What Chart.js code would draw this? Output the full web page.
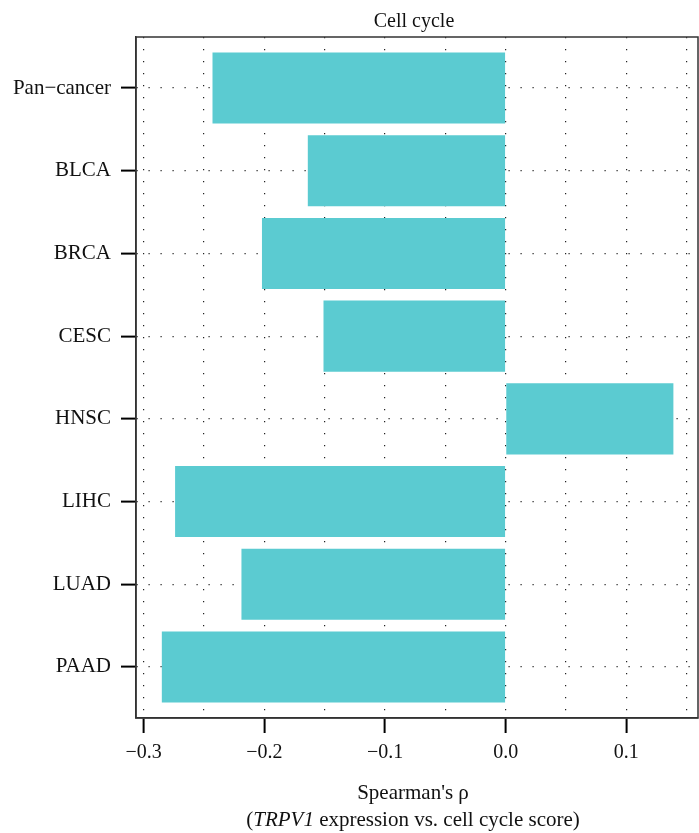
<!DOCTYPE html>
<html>
<head>
<meta charset="utf-8">
<title>Cell cycle</title>
<script src="https://cdn.jsdelivr.net/npm/chart.js@4"></script>
<style>
  html, body { margin: 0; padding: 0; background: #fff; }
  #wrap { width: 699px; height: 833px; }
</style>
</head>
<body>
<div id="wrap"><canvas id="myChart" width="699" height="833"></canvas></div>
<script>
// values
const cancerTypes = ["Pan\u2212cancer", "BLCA", "BRCA", "CESC", "HNSC", "LIHC", "LUAD", "PAAD"];
const rhoValues = [-0.243, -0.164, -0.202, -0.151, 0.139, -0.274, -0.219, -0.285];
const xTickValues = [-0.3, -0.25, -0.2, -0.15, -0.1, -0.05, 0, 0.05, 0.1, 0.15];
const xRange = [-0.3064, 0.1594];
const chartTitle = 'Cell cycle';

const serif = '"Liberation Serif", "Times New Roman", serif';
const barColor = '#5BCBD1';

function fmtTick(v) {
  if (Math.round(v * 20) % 2 !== 0) return '';
  let s = Math.abs(v).toFixed(1);
  return v < -1e-9 ? '\u2212' + s : s;
}

// box round the plot, title over the plot, two-line x label (italic gene name)
const frameAndLabel = {
  id: 'frameAndLabel',
  afterDraw(chart) {
    const ctx = chart.ctx;
    const a = chart.chartArea;
    ctx.save();
    ctx.strokeStyle = '#333';
    ctx.lineWidth = 1.5;
    ctx.strokeRect(a.left, a.top, a.right - a.left, a.bottom - a.top);

    const cx = (a.left + a.right) / 2 - 4;
    ctx.fillStyle = '#111';
    ctx.textBaseline = 'alphabetic';
    ctx.textAlign = 'center';
    ctx.font = '20px ' + serif;
    ctx.fillText(chartTitle, cx + 1, 27);
    ctx.font = '21px ' + serif;
    ctx.fillText("Spearman's \u03C1", cx, 799);

    const parts = [
      ['(', 'normal'],
      ['TRPV1', 'italic'],
      [' expression vs. cell cycle score)', 'normal']
    ];
    let total = 0;
    parts.forEach(p => {
      ctx.font = (p[1] === 'italic' ? 'italic ' : '') + '21px ' + serif;
      total += ctx.measureText(p[0]).width;
    });
    let x = cx - total / 2;
    ctx.textAlign = 'left';
    parts.forEach(p => {
      ctx.font = (p[1] === 'italic' ? 'italic ' : '') + '21px ' + serif;
      ctx.fillText(p[0], x, 826);
      x += ctx.measureText(p[0]).width;
    });
    ctx.restore();
  }
};

const ctx = document.getElementById('myChart').getContext('2d');
const chart = new Chart(ctx, {
  type: 'bar',
  data: {
    datasets: [{
      label: chartTitle,
      data: rhoValues.map((v, i) => ({ x: v, y: i + 1 })),
      backgroundColor: barColor,
      borderWidth: 0,
      categoryPercentage: 1,
      barPercentage: 0.86
    }]
  },
  options: {
    indexAxis: 'y',
    responsive: false,
    animation: false,
    layout: { padding: { left: 0, right: 1, top: 37, bottom: 0 } },
    plugins: {
      legend: { display: false },
      tooltip: { enabled: false },
      title: { display: false }
    },
    scales: {
      x: {
        type: 'linear',
        position: 'bottom',
        min: xRange[0],
        max: xRange[1],
        offset: false,
        afterBuildTicks(scale) {
          scale.ticks = xTickValues.map(v => ({ value: v }));
        },
        afterFit(scale) { scale.height = 115; },
        ticks: {
          autoSkip: false,
          maxRotation: 0,
          padding: 8,
          color: '#111',
          font: { family: serif, size: 20 },
          callback: v => fmtTick(v)
        },
        grid: {
          offset: false,
          color: '#222',
          lineWidth: 1.2,
          tickLength: 15,
          tickWidth: 2,
          tickBorderDash: [],
          tickColor: c => (c.tick && Math.round(c.tick.value * 20) % 2 === 0) ? '#000' : 'rgba(0,0,0,0)'
        },
        border: { display: true, color: '#333', width: 1.5, dash: [1.2, 10.8] }
      },
      y: {
        type: 'linear',
        reverse: true,
        min: 0.383,
        max: 8.617,
        offset: false,
        afterBuildTicks(scale) {
          scale.ticks = cancerTypes.map((c, i) => ({ value: i + 1 }));
        },
        afterFit(scale) { scale.width = 136; },
        ticks: {
          autoSkip: false,
          padding: 10,
          color: '#111',
          font: { family: serif, size: 21 },
          callback: v => cancerTypes[Math.round(v) - 1]
        },
        grid: {
          offset: false,
          color: '#222',
          lineWidth: 1.2,
          tickLength: 15,
          tickWidth: 2,
          tickBorderDash: [],
          tickColor: '#000'
        },
        border: { display: true, color: '#333', width: 1.5, dash: [1.2, 10.8] }
      }
    }
  },
  plugins: [frameAndLabel]
});
</script>
</body>
</html>
